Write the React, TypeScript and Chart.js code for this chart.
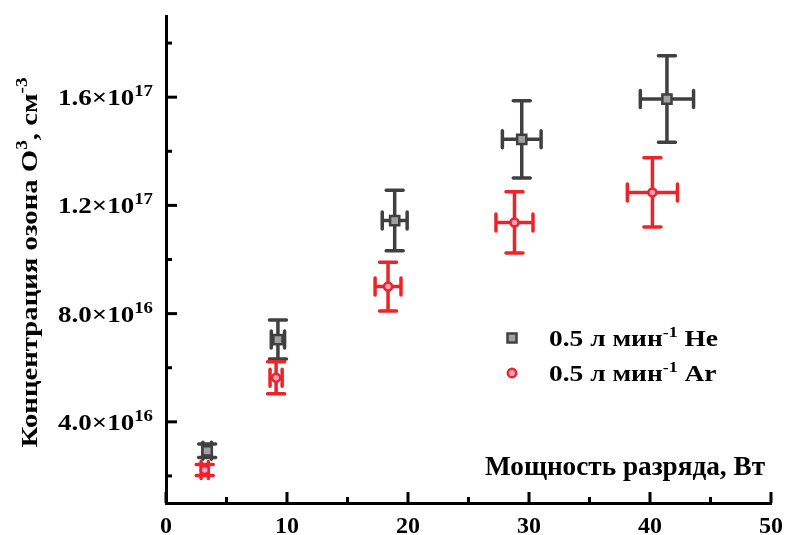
import React, { useEffect, useRef } from 'react';
import { Chart, registerables } from 'chart.js';

Chart.register(...registerables);

// ---- data ----
const heX = [3.4, 9.25, 18.9, 29.4, 41.4];
const heY = [2.93e16, 7.04e16, 1.144e17, 1.444e17, 1.593e17];
const heXErr = [0.35, 0.55, 1.03, 1.6, 2.2];
const heYErr = [2.5e15, 7.2e15, 1.12e16, 1.43e16, 1.6e16];

const arX = [3.2, 9.1, 18.35, 28.8, 40.2];
const arY = [2.22e16, 5.63e16, 9.0e16, 1.137e17, 1.248e17];
const arXErr = [0.3, 0.5, 1.07, 1.53, 2.07];
const arYErr = [2.0e15, 5.9e15, 9.0e15, 1.13e16, 1.28e16];

const xTicks = [0, 10, 20, 30, 40, 50];
const xMinorTicks = [5, 15, 25, 35, 45];
const yTicks = [4e16, 8e16, 1.2e17, 1.6e17];
const yMinorTicks = [2e16, 6e16, 1e17, 1.4e17, 1.8e17];
const yTickMantissa = ['4.0', '8.0', '1.2', '1.6'];
const yTickExponent = ['16', '16', '17', '17'];

const seriesLabels = ['He', 'Ar'];
const legendPrefix = '0.5 л мин';
const legendSup = '-1';
const xTitle = 'Мощность разряда, Вт';
const yTitleParts = ['Концентрация озона O', '3', ', см', '-3'];

const FONT = "'Liberation Serif', 'Times New Roman', serif";
const HE_LINE = '#404040';
const HE_FILL = '#a0a0a0';
const AR_LINE = '#ee2229';
const AR_FILL = '#f5a3c7';

type Part = { text: string; size: number; raise?: number };

function measureParts(ctx: any, parts: Part[]) {
  return parts.map((p) => {
    ctx.font = `bold ${p.size}px ${FONT}`;
    return ctx.measureText(p.text).width;
  });
}

// draws text parts starting at the current origin (already translated/rotated)
function drawRich(ctx: any, parts: Part[], x: number, baseline: number, align: 'left' | 'right' | 'center', targetWidth?: number, rotate?: number) {
  const widths = measureParts(ctx, parts);
  const w = widths.reduce((a, b) => a + b, 0);
  const sx = targetWidth ? targetWidth / w : 1;
  ctx.save();
  ctx.textAlign = 'left';
  ctx.textBaseline = 'alphabetic';
  ctx.fillStyle = '#000';
  ctx.translate(x, baseline);
  if (rotate) ctx.rotate(rotate);
  const start = align === 'left' ? 0 : align === 'right' ? -w * sx : (-w * sx) / 2;
  ctx.translate(start, 0);
  ctx.scale(sx, 1);
  let cx = 0;
  parts.forEach((p, i) => {
    ctx.font = `bold ${p.size}px ${FONT}`;
    ctx.fillText(p.text, cx, -(p.raise || 0));
    cx += widths[i];
  });
  ctx.restore();
  return sx;
}

const errorBarPlugin = {
  id: 'errorBars',
  beforeDatasetsDraw(chart: any) {
    const { ctx } = chart;
    const xs = chart.scales.x;
    const ys = chart.scales.y;
    chart.data.datasets.forEach((ds: any) => {
      ctx.save();
      ctx.strokeStyle = ds.errColor;
      ctx.lineWidth = 3.5;
      ctx.lineCap = 'round';
      const cap = 8.5;
      ds.data.forEach((p: any, j: number) => {
        const cx = xs.getPixelForValue(p.x);
        const cy = ys.getPixelForValue(p.y);
        const x1 = xs.getPixelForValue(p.x - ds.xErr[j]);
        const x2 = xs.getPixelForValue(p.x + ds.xErr[j]);
        const y1 = ys.getPixelForValue(p.y - ds.yErr[j]);
        const y2 = ys.getPixelForValue(p.y + ds.yErr[j]);
        ctx.beginPath();
        ctx.moveTo(cx, y1); ctx.lineTo(cx, y2);
        ctx.moveTo(cx - cap, y1); ctx.lineTo(cx + cap, y1);
        ctx.moveTo(cx - cap, y2); ctx.lineTo(cx + cap, y2);
        ctx.moveTo(x1, cy); ctx.lineTo(x2, cy);
        ctx.moveTo(x1, cy - cap); ctx.lineTo(x1, cy + cap);
        ctx.moveTo(x2, cy - cap); ctx.lineTo(x2, cy + cap);
        ctx.stroke();
      });
      ctx.restore();
    });
  },
};

const decorPlugin = {
  id: 'decor',
  afterDraw(chart: any) {
    const { ctx, chartArea } = chart;
    const xs = chart.scales.x;
    const ys = chart.scales.y;
    ctx.save();
    ctx.strokeStyle = '#000';
    ctx.lineWidth = 3;
    ctx.lineCap = 'butt';
    const bottom = chartArea.bottom;
    xTicks.forEach((v) => {
      const px = xs.getPixelForValue(v);
      ctx.beginPath(); ctx.moveTo(px, bottom); ctx.lineTo(px, bottom - 11); ctx.stroke();
    });
    xMinorTicks.forEach((v) => {
      const px = xs.getPixelForValue(v);
      ctx.beginPath(); ctx.moveTo(px, bottom); ctx.lineTo(px, bottom - 6); ctx.stroke();
    });
    const left = chartArea.left;
    yTicks.forEach((v) => {
      const py = ys.getPixelForValue(v);
      ctx.beginPath(); ctx.moveTo(left, py); ctx.lineTo(left + 11, py); ctx.stroke();
    });
    yMinorTicks.forEach((v) => {
      const py = ys.getPixelForValue(v);
      ctx.beginPath(); ctx.moveTo(left, py); ctx.lineTo(left + 6, py); ctx.stroke();
    });

    // y tick labels with superscript exponents
    yTicks.forEach((v, i) => {
      const py = ys.getPixelForValue(v);
      drawRich(ctx, [
        { text: yTickMantissa[i] + '×10', size: 23 },
        { text: yTickExponent[i], size: 16, raise: 9 },
      ], left - 13, py + 8, 'right', 95);
    });

    // y axis title (rotated)
    drawRich(ctx, [
      { text: yTitleParts[0], size: 24 },
      { text: yTitleParts[1], size: 16, raise: 10 },
      { text: yTitleParts[2], size: 24 },
      { text: yTitleParts[3], size: 16, raise: 10 },
    ], 37, (chartArea.top + chartArea.bottom) / 2 + 3, 'center', 370, -Math.PI / 2);

    // x axis title inside the plot
    drawRich(ctx, [{ text: xTitle, size: 27 }], chartArea.right - 6, bottom - 28, 'right', 280);

    // legend
    const lx = 512;
    const rows = [
      { y: 338, label: seriesLabels[0], kind: 'rect' },
      { y: 373, label: seriesLabels[1], kind: 'circle' },
    ];
    let sx = 0;
    rows.forEach((r, k) => {
      ctx.lineWidth = 2.5;
      if (r.kind === 'rect') {
        ctx.fillStyle = HE_FILL;
        ctx.strokeStyle = HE_LINE;
        ctx.beginPath(); ctx.rect(lx - 4.5, r.y - 4.5, 9, 9); ctx.fill(); ctx.stroke();
      } else {
        ctx.fillStyle = AR_FILL;
        ctx.strokeStyle = AR_LINE;
        ctx.beginPath(); ctx.arc(lx, r.y, 4.2, 0, Math.PI * 2); ctx.fill(); ctx.stroke();
      }
      const parts = [
        { text: legendPrefix, size: 23 },
        { text: legendSup, size: 15, raise: 9 },
        { text: ' ' + r.label, size: 23 },
      ];
      if (k === 0) {
        sx = drawRich(ctx, parts, 549, r.y + 8, 'left', 169);
      } else {
        const w = measureParts(ctx, parts).reduce((a, b) => a + b, 0);
        drawRich(ctx, parts, 549, r.y + 8, 'left', w * sx);
      }
    });
    ctx.restore();
  },
};

export default function App() {
  const ref = useRef<HTMLCanvasElement | null>(null);
  useEffect(() => {
    if (!ref.current) return;
    const chart = new Chart(ref.current, {
      type: 'scatter',
      data: {
        datasets: [
          {
            label: seriesLabels[0],
            data: heX.map((x, i) => ({ x, y: heY[i] })),
            pointStyle: 'rect',
            pointRadius: 6.5,
            pointBorderWidth: 2.5,
            backgroundColor: HE_FILL,
            borderColor: HE_LINE,
            xErr: heXErr,
            yErr: heYErr,
            errColor: HE_LINE,
          } as any,
          {
            label: seriesLabels[1],
            data: arX.map((x, i) => ({ x, y: arY[i] })),
            pointStyle: 'circle',
            pointRadius: 4,
            pointBorderWidth: 2.5,
            backgroundColor: AR_FILL,
            borderColor: AR_LINE,
            xErr: arXErr,
            yErr: arYErr,
            errColor: AR_LINE,
          } as any,
        ],
      },
      options: {
        animation: false,
        responsive: false,
        layout: { padding: { top: 16, right: 16, left: 0, bottom: 0 } },
        plugins: {
          legend: { display: false },
          tooltip: { enabled: false },
        },
        scales: {
          x: {
            type: 'linear',
            min: 0,
            max: 50,
            afterBuildTicks: (s: any) => { s.ticks = xTicks.map((v) => ({ value: v })); },
            afterFit: (s: any) => { s.height = 32; s.paddingLeft = 0; s.paddingRight = 0; },
            ticks: {
              color: '#000',
              font: { family: FONT, size: 24, weight: 'bold' },
              padding: 1,
              maxRotation: 0,
              autoSkip: false,
            },
            grid: { display: false },
            border: { display: true, color: '#000', width: 3 },
          },
          y: {
            type: 'linear',
            min: 1e16,
            max: 1.9e17,
            afterBuildTicks: (s: any) => { s.ticks = yTicks.map((v) => ({ value: v })); },
            afterFit: (s: any) => { s.width = 166; s.paddingTop = 0; s.paddingBottom = 0; },
            ticks: { display: false },
            grid: { display: false },
            border: { display: true, color: '#000', width: 3 },
          },
        },
      },
      plugins: [errorBarPlugin, decorPlugin],
    });
    return () => chart.destroy();
  }, []);
  return (
    <div style={{ position: 'absolute', left: 0, top: 0, width: 787, height: 535, overflow: 'hidden', background: '#fff' }}>
      <canvas ref={ref} width={787} height={535} style={{ display: 'block' }} />
    </div>
  );
}
